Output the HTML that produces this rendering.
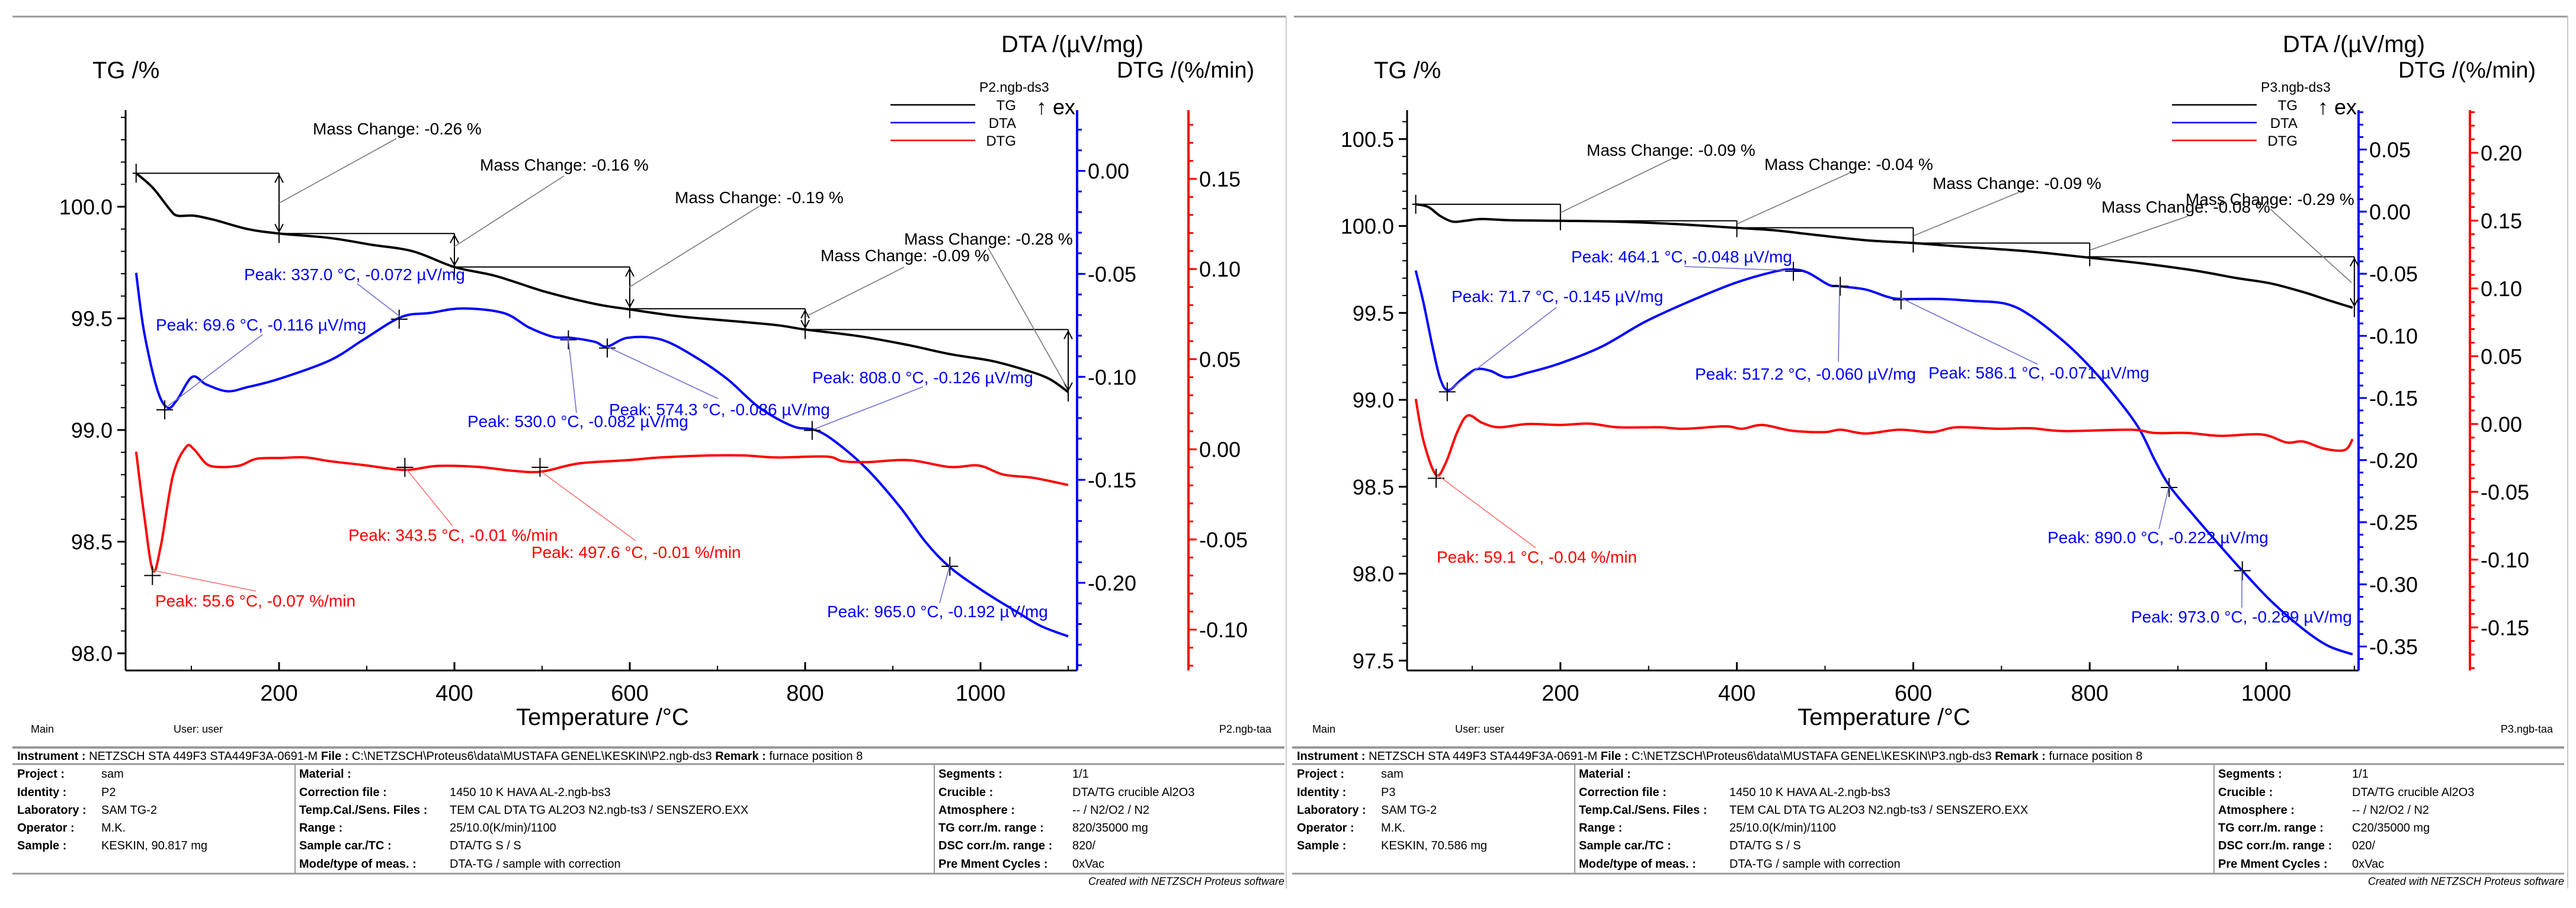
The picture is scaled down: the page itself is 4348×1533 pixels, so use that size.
<!DOCTYPE html>
<html><head><meta charset="utf-8"><title>TG/DTA/DTG P2 and P3</title>
<style>
html,body{margin:0;padding:0;background:#fff;}
svg{display:block;font-family:"Liberation Sans",Arial,sans-serif;}
</style></head>
<body>
<svg id="chart" width="4348" height="1533" viewBox="0 0 4348 1533" xmlns="http://www.w3.org/2000/svg"></svg>
<script>
// ---------- LEFT PANEL (P2) DATA ----------
const L_T_TG=[37,56,75,84,103,127,164,200,258,305,353,400,447,503,560,600,654,711,767,800,862,918,965,1012,1050,1078,1100];
const L_TG=[100.15,100.085,99.99,99.96,99.96,99.94,99.90,99.88,99.86,99.83,99.80,99.73,99.69,99.62,99.565,99.54,99.51,99.49,99.47,99.45,99.42,99.38,99.34,99.31,99.27,99.23,99.17];
const L_T_DTA=[37,46,61,73,84,101,117,141,164,200,258,296,339,372,409,456,485,513,532,560,574,598,635,673,711,748,786,810,833,871,909,937,965,1003,1041,1069,1100];
const L_DTA=[-0.0495,-0.078,-0.106,-0.115,-0.111,-0.100,-0.1037,-0.107,-0.105,-0.101,-0.092,-0.082,-0.071,-0.069,-0.0668,-0.069,-0.076,-0.0806,-0.081,-0.083,-0.0853,-0.081,-0.0818,-0.0899,-0.101,-0.115,-0.124,-0.1256,-0.131,-0.145,-0.1636,-0.180,-0.1924,-0.204,-0.214,-0.221,-0.226];
const L_T_DTG=[37,46,56,65,79,94,103,117,131,155,174,202,230,258,296,343,381,428,466,499,541,598,635,692,730,767,824,843,871,918,965,998,1026,1060,1100];
const L_DTG=[-0.0013,-0.036,-0.067,-0.054,-0.0145,0.0013,0,-0.008,-0.0098,-0.009,-0.0053,-0.0048,-0.0045,-0.0066,-0.0087,-0.0114,-0.0092,-0.0098,-0.0119,-0.0124,-0.0079,-0.006,-0.0045,-0.0034,-0.0034,-0.0045,-0.004,-0.0066,-0.0071,-0.006,-0.0098,-0.009,-0.014,-0.0158,-0.0198];
const L_STEP_T=[37,200,400,600,800,1100];
const L_STEP_TG=[100.15,99.88,99.73,99.543,99.45,99.17];
const L_DTA_PEAK_T=[69.6,337.0,530.0,574.3,808.0,965.0];
const L_DTA_PEAK_V=[-0.116,-0.072,-0.082,-0.086,-0.126,-0.192];
const L_DTG_PEAK_T=[55.6,343.5,497.6];
const L_DTG_PEAK_V=[-0.07,-0.01,-0.01];
const L_TG_TICKS=[98.0,98.5,99.0,99.5,100.0];
const L_DTA_TICKS=[-0.20,-0.15,-0.10,-0.05,0.00];
const L_DTG_TICKS=[-0.10,-0.05,0.00,0.05,0.10,0.15];

// ---------- RIGHT PANEL (P3) DATA ----------
const R_T_TG=[36,50,64,78,92,111,144,200,265,331,400,443,490,546,600,658,733,801,864,920,967,1005,1042,1070,1098];
const R_TG=[100.125,100.11,100.057,100.025,100.03,100.04,100.033,100.03,100.025,100.011,99.989,99.975,99.948,99.918,99.902,99.88,99.853,99.817,99.782,99.743,99.70,99.67,99.62,99.574,99.53];
const R_T_DTA=[36,45,55,64,73,88,104,120,139,163,200,247,294,340,397,443,464,481,504,516,546,570,586,630,668,705,733,771,799,827,855,874,891,920,948,972,1005,1042,1070,1098];
const R_DTA=[-0.0474,-0.074,-0.1086,-0.135,-0.1437,-0.135,-0.127,-0.128,-0.1334,-0.1296,-0.122,-0.1086,-0.0894,-0.0742,-0.0577,-0.0482,-0.0466,-0.0493,-0.0589,-0.060,-0.0627,-0.0684,-0.0703,-0.0703,-0.0719,-0.0742,-0.0837,-0.1047,-0.1239,-0.1468,-0.1735,-0.2003,-0.2213,-0.2462,-0.2691,-0.2882,-0.313,-0.336,-0.3494,-0.3563];
const R_T_DTG=[36,45,59,70,83,95,111,130,163,200,233,265,312,340,387,406,429,462,499,518,546,584,621,649,696,733,771,846,874,911,948,995,1023,1042,1066,1089,1098];
const R_DTG=[0.0185,-0.0129,-0.0374,-0.0287,-0.006,0.0063,0.001,-0.0024,0,-0.0007,0.0003,-0.0024,-0.0024,-0.0035,-0.0017,-0.0035,-0.0007,-0.0049,-0.006,-0.0042,-0.007,-0.0042,-0.006,-0.0024,-0.0035,-0.0031,-0.0052,-0.0042,-0.0066,-0.0066,-0.0087,-0.0077,-0.0136,-0.0129,-0.0182,-0.0192,-0.0112];
const R_STEP_T=[36,200,400,600,800,1100];
const R_STEP_TG=[100.125,100.03,99.99,99.902,99.823,99.53];
const R_DTA_PEAK_T=[71.7,464.1,517.2,586.1,890.0,973.0];
const R_DTA_PEAK_V=[-0.145,-0.048,-0.060,-0.071,-0.222,-0.289];
const R_DTG_PEAK_T=[59.1];
const R_DTG_PEAK_V=[-0.04];
const R_TG_TICKS=[97.5,98.0,98.5,99.0,99.5,100.0,100.5];
const R_DTA_TICKS=[-0.35,-0.30,-0.25,-0.20,-0.15,-0.10,-0.05,0.00,0.05];
const R_DTG_TICKS=[-0.15,-0.10,-0.05,0.00,0.05,0.10,0.15,0.20];

const X_TICKS=[200,400,600,800,1000];

const NS="http://www.w3.org/2000/svg";
const svg=document.getElementById('chart');
function add(tag,parent){const e=document.createElementNS(NS,tag);(parent||svg).appendChild(e);return e;}
function line(p,x1,y1,x2,y2,stroke,w,name){
  const e=add('line',p);
  e.setAttribute('x1',x1);e.setAttribute('y1',y1);e.setAttribute('x2',x2);e.setAttribute('y2',y2);
  e.setAttribute('stroke',stroke);e.setAttribute('stroke-width',w);
  
  
  return e;}
function txt(p,x,y,s,size,fill,anchor,weight,name,style){
  const e=add('text',p);
  e.setAttribute('x',x);e.setAttribute('y',y);e.setAttribute('font-size',size);
  e.setAttribute('fill',fill||'#000');e.setAttribute('text-anchor',anchor||'start');
  if(weight)e.setAttribute('font-weight',weight);
  if(style)e.setAttribute('font-style',style);
  e.textContent=s;
  
  
  return e;}
function smoothPath(pts){
  let d='M'+pts[0][0].toFixed(1)+','+pts[0][1].toFixed(1);
  for(let i=0;i<pts.length-1;i++){
    const p0=pts[Math.max(0,i-1)],p1=pts[i],p2=pts[i+1],p3=pts[Math.min(pts.length-1,i+2)];
    const c1x=p1[0]+(p2[0]-p0[0])/6,c1y=p1[1]+(p2[1]-p0[1])/6;
    const c2x=p2[0]-(p3[0]-p1[0])/6,c2y=p2[1]-(p3[1]-p1[1])/6;
    d+=' C'+c1x.toFixed(1)+','+c1y.toFixed(1)+' '+c2x.toFixed(1)+','+c2y.toFixed(1)+' '+p2[0].toFixed(1)+','+p2[1].toFixed(1);
  }
  return d;}
function cross(p,x,y,color,name){
  line(p,x-14,y,x+14,y,color,2,name+'-h');
  line(p,x,y-16,x,y+16,color,2,name+'-v');}
function fmt(v,d){return (Math.abs(v)<1e-9?0:v).toFixed(d);}

function drawPanel(P){
  const g=add('g');
  
  
  const O=P.ox;
  const X=t=>P.x0+P.xs*t;
  const YTG=v=>P.tgRef+(P.tgRefV-v)*P.tgS;
  const YDTA=v=>P.dtaRef+(P.dtaRefV-v)*P.dtaS;
  const YDTG=v=>P.dtgRef+(P.dtgRefV-v)*P.dtgS;
  const top=186,bot=1132,ax=212+O,bx=1818+O,rx=2006+O;
  // frame
  line(g,21+O,28,2171+O,28,'#9a9a9a',3,'panel-top-border');
  line(g,2171+O,28,2171+O,1500,'#c8c8c8',2,'panel-right-border');
  // titles
  txt(g,156+O,132,'TG /%',40,'#000','start',null,'tg-axis-title');
  txt(g,1690+O,88,'DTA /(µV/mg)',40,'#000','start',null,'dta-axis-title');
  txt(g,1885+O,131,'DTG /(%/min)',38,'#000','start',null,'dtg-axis-title');
  // axes
  line(g,ax,top,ax,bot,'#000',3,'tg-axis-line');
  line(g,ax,bot,bx,bot,'#000',3,'x-axis-line');
  line(g,bx,top,bx,bot,'#0000ff',4,'dta-axis-line');
  line(g,rx,top,rx,bot,'#ff0000',4,'dtg-axis-line');
  // TG ticks
  for(let v=Math.ceil(P.tgMin*10)/10;v<=P.tgMax+1e-9;v+=0.1){
    const y=YTG(v);line(g,ax-8,y,ax,y,'#000',2,'tg-minor-tick');}
  P.tgTicks.forEach(v=>{const y=YTG(v);line(g,ax-14,y,ax,y,'#000',3,'tg-major-tick');
    txt(g,ax-22,y+13,fmt(v,1),36,'#000','end',null,'tg-tick-label');});
  // DTA ticks
  for(let k=Math.ceil(P.dtaMin*100);k<=Math.floor(P.dtaMax*100);k++){
    const y=YDTA(k/100);line(g,bx,y,bx+8,y,'#0000ff',3,'dta-minor-tick');}
  P.dtaTicks.forEach(v=>{const y=YDTA(v);line(g,bx,y,bx+14,y,'#0000ff',3,'dta-major-tick');
    txt(g,bx+18,y+13,fmt(v,2),36,'#000','start',null,'dta-tick-label');});
  // DTG ticks
  for(let k=Math.ceil(P.dtgMin*100);k<=Math.floor(P.dtgMax*100);k++){
    const y=YDTG(k/100);line(g,rx,y,rx+8,y,'#ff0000',3,'dtg-minor-tick');}
  P.dtgTicks.forEach(v=>{const y=YDTG(v);line(g,rx,y,rx+14,y,'#ff0000',3,'dtg-major-tick');
    txt(g,rx+18,y+13,fmt(v,2),36,'#000','start',null,'dtg-tick-label');});
  // X ticks
  for(let t=100;t<=1100;t+=100){const x=X(t);if(x>ax&&x<bx)line(g,x,bot,x,bot-8,'#000',2,'x-minor-tick');}
  X_TICKS.forEach(t=>{const x=X(t);line(g,x,bot,x,bot-14,'#000',3,'x-major-tick');
    txt(g,x,1183,String(t),38,'#000','middle',null,'x-tick-label');});
  txt(g,P.xTitleX,1224,'Temperature /°C',40,'#000','middle',null,'x-axis-title');
  // legend
  txt(g,1653+O,155,P.file,23,'#000','start',null,'legend-title');
  [['TG','#000',177],['DTA','#0000ff',207],['DTG','#ff0000',237]].forEach(l=>{
    line(g,1503+O,l[2],1646+O,l[2],l[1],2.5,'legend-'+l[0].toLowerCase()+'-line');
    txt(g,1715+O,l[2]+9,l[0],24,'#000','end',null,'legend-'+l[0].toLowerCase()+'-label');});
  txt(g,1749+O,193,'↑ ex',36,'#000','start',null,'exo-direction-label');
  // mass change steps
  const st=P.stepT,sv=P.stepTG;
  for(let i=0;i<st.length-1;i++){
    const xa=X(st[i]),xb=X(st[i+1]),y1=YTG(sv[i]),y2=YTG(sv[i+1]);
    line(g,xa-6,y1,xb,y1,'#000',2,'mass-step-level');
    if(i===0)line(g,xa,y1-16,xa,y1+16,'#000',2,'mass-step-start');
    line(g,xb,y1,xb,y2+16,'#000',2,'mass-step-arrow');
    if(y2-y1>30){
      line(g,xb-7,y1+16,xb,y1+3,'#000',2,'arrow-head-up-l');line(g,xb+7,y1+16,xb,y1+3,'#000',2,'arrow-head-up-r');
      line(g,xb-7,y2-16,xb,y2-3,'#000',2,'arrow-head-dn-l');line(g,xb+7,y2-16,xb,y2-3,'#000',2,'arrow-head-dn-r');}
  }
  // curves
  const curves=[[P.tT,P.tg,YTG,'#000','tg-curve'],[P.aT,P.dta,YDTA,'#0000ff','dta-curve'],[P.gT,P.dtg,YDTG,'#ff0000','dtg-curve']];
  curves.forEach(c=>{
    const pts=c[0].map((t,i)=>[X(t),c[2](c[1][i])]);
    const p=add('path',g);
    p.setAttribute('d',smoothPath(pts));p.setAttribute('fill','none');
    p.setAttribute('stroke',c[3]);p.setAttribute('stroke-width',4);p.setAttribute('stroke-linejoin','round');
    
    
  });
  // peak crosses
  P.aPT.forEach((t,i)=>cross(g,X(t),YDTA(P.aPV[i]),'#000','dta-peak-marker'));
  P.gPT.forEach((t,i)=>cross(g,X(t),YDTG(P.gPV[i]),'#000','dtg-peak-marker'));
  // annotations
  P.ann.forEach(a=>{
    const col=a[0]==='k'?'#000':(a[0]==='b'?'#0000ff':'#ff0000');
    const lc=a[0]==='k'?'#777':(a[0]==='b'?'#7070d0':'#ff7070');
    line(g,a[4]+O,a[5],a[6]+O,a[7],lc,1.6,'annotation-leader');
    txt(g,a[2]+O,a[3],a[1],28,col,'start',null,'annotation-label');
  });
  // bottom status
  txt(g,52+O,1237,'Main',18,'#000','start',null,'status-main');
  txt(g,293+O,1237,'User: user',18,'#000','start',null,'status-user');
  txt(g,2146+O,1237,P.taa,18,'#000','end',null,'status-file');
  // footer table
  const F=O>0?2160:0;
  line(g,21+F,1262,2168+F,1262,'#999',4,'footer-line-top');
  line(g,21+F,1290,2168+F,1290,'#999',3,'footer-line-mid');
  line(g,21+F,1475,2168+F,1475,'#999',3,'footer-line-bottom');
  line(g,498+F,1290,498+F,1475,'#999',2,'footer-divider-1');
  line(g,1577+F,1290,1577+F,1475,'#999',2,'footer-divider-2');
  const inst=add('text',g);
  inst.setAttribute('x',29+F);inst.setAttribute('y',1283);inst.setAttribute('font-size',20);
  
  
  [['Instrument : ','bold'],['NETZSCH STA 449F3 STA449F3A-0691-M  ',null],['File : ','bold'],['C:\\NETZSCH\\Proteus6\\data\\MUSTAFA GENEL\\KESKIN\\'+P.file+'  ',null],['Remark : ','bold'],['furnace position 8',null]].forEach(s=>{
    const ts=add('tspan',inst);ts.textContent=s[0];if(s[1])ts.setAttribute('font-weight','bold');
    
    });
  const rows=[1313,1344,1374,1404,1434,1465];
  const c1=[['Project :','sam'],['Identity :',P.ident],['Laboratory :','SAM TG-2'],['Operator :','M.K.'],['Sample :',P.sample]];
  const c2=[['Material :',''],['Correction file :','1450 10 K HAVA AL-2.ngb-bs3'],['Temp.Cal./Sens. Files :','TEM CAL DTA TG AL2O3 N2.ngb-ts3 / SENSZERO.EXX'],['Range :','  25/10.0(K/min)/1100'],['Sample car./TC :','DTA/TG S / S'],['Mode/type of meas. :','DTA-TG / sample with correction']];
  const c3=[['Segments :','1/1'],['Crucible :','DTA/TG crucible Al2O3'],['Atmosphere :','-- / N2/O2 / N2'],['TG corr./m. range :',P.tgcorr],['DSC corr./m. range :',P.dsccorr],['Pre Mment Cycles :','0xVac']];
  c1.forEach((r,i)=>{txt(g,29+F,rows[i],r[0],20,'#000','start','bold','footer-label');txt(g,171+F,rows[i],r[1],20,'#000','start',null,'footer-value');});
  c2.forEach((r,i)=>{txt(g,505+F,rows[i],r[0],20,'#000','start','bold','footer-label');const v=txt(g,759+F,rows[i],r[1],20,'#000','start',null,'footer-value');v.setAttribute('xml:space','preserve');});
  c3.forEach((r,i)=>{txt(g,1584+F,rows[i],r[0],20,'#000','start','bold','footer-label');txt(g,1810+F,rows[i],r[1],20,'#000','start',null,'footer-value');});
  txt(g,2168+F,1494,'Created with NETZSCH Proteus software',18,'#000','end',null,'created-with-note','italic');
}

drawPanel({id:'p2',ox:0,x0:175,xs:1.48,xTitleX:1017,
  tgRef:349,tgRefV:100,tgS:377,tgMin:97.93,tgMax:100.42,
  dtaRef:288.5,dtaRefV:0,dtaS:3477.5,dtaMin:-0.242,dtaMax:0.029,
  dtgRef:302,dtgRefV:0.15,dtgS:3044,dtgMin:-0.123,dtgMax:0.187,
  tgTicks:L_TG_TICKS,dtaTicks:L_DTA_TICKS,dtgTicks:L_DTG_TICKS,
  tT:L_T_TG,tg:L_TG,aT:L_T_DTA,dta:L_DTA,gT:L_T_DTG,dtg:L_DTG,
  stepT:L_STEP_T,stepTG:L_STEP_TG,aPT:L_DTA_PEAK_T,aPV:L_DTA_PEAK_V,gPT:L_DTG_PEAK_T,gPV:L_DTG_PEAK_V,
  file:'P2.ngb-ds3',taa:'P2.ngb-taa',ident:'P2',sample:'KESKIN, 90.817 mg',tgcorr:'820/35000 mg',dsccorr:'820/',
  ann:[
   ['k','Mass Change: -0.26 %',528,227,669,234,471,343],
   ['k','Mass Change: -0.16 %',810,288,952,297,766,417],
   ['k','Mass Change: -0.19 %',1139,343,1282,348,1062,485],
   ['k','Mass Change: -0.28 %',1526,413,1668,419,1798,649],
   ['k','Mass Change: -0.09 %',1385,441,1526,451,1359,535],
   ['b','Peak: 337.0 °C, -0.072 µV/mg',412,473,603,479,676,535],
   ['b','Peak: 69.6 °C, -0.116 µV/mg',263,558,443,565,279,689],
   ['b','Peak: 530.0 °C, -0.082 µV/mg',789,721,973,697,959,570],
   ['b','Peak: 574.3 °C, -0.086 µV/mg',1028,701,1212,673,1024,585],
   ['b','Peak: 808.0 °C, -0.126 µV/mg',1371,647,1558,653,1373,725],
   ['b','Peak: 965.0 °C, -0.192 µV/mg',1396,1042,1586,1018,1603,955],
   ['r','Peak: 343.5 °C, -0.01 %/min',588,913,764,888,686,792],
   ['r','Peak: 497.6 °C, -0.01 %/min',897,942,1073,913,913,796],
   ['r','Peak: 55.6 °C, -0.07 %/min',262,1024,432,998,258,963]
  ]});

drawPanel({id:'p3',ox:2163,x0:2336,xs:1.489,xTitleX:3180,
  tgRef:234.8,tgRefV:100.5,tgS:293.5,tgMin:97.45,tgMax:100.66,
  dtaRef:252.4,dtaRefV:0.05,dtaS:2097.75,dtaMin:-0.369,dtaMax:0.081,
  dtgRef:258,dtgRefV:0.2,dtgS:2289.4,dtgMin:-0.181,dtgMax:0.231,
  tgTicks:R_TG_TICKS,dtaTicks:R_DTA_TICKS,dtgTicks:R_DTG_TICKS,
  tT:R_T_TG,tg:R_TG,aT:R_T_DTA,dta:R_DTA,gT:R_T_DTG,dtg:R_DTG,
  stepT:R_STEP_T,stepTG:R_STEP_TG,aPT:R_DTA_PEAK_T,aPV:R_DTA_PEAK_V,gPT:R_DTG_PEAK_T,gPV:R_DTG_PEAK_V,
  file:'P3.ngb-ds3',taa:'P3.ngb-taa',ident:'P3',sample:'KESKIN, 70.586 mg',tgcorr:'C20/35000 mg',dsccorr:'020/',
  ann:[
   ['k','Mass Change: -0.09 %',515,263,659,268,471,359],
   ['k','Mass Change: -0.04 %',815,287,959,292,769,378],
   ['k','Mass Change: -0.09 %',1099,319,1244,325,1067,398],
   ['k','Mass Change: -0.08 %',1384,359,1530,365,1365,422],
   ['k','Mass Change: -0.29 %',1526,346,1669,353,1806,477],
   ['b','Peak: 464.1 °C, -0.048 µV/mg',489,443,680,450,864,457],
   ['b','Peak: 71.7 °C, -0.145 µV/mg',287,510,464,519,283,659],
   ['b','Peak: 517.2 °C, -0.060 µV/mg',698,641,940,611,942,481],
   ['b','Peak: 586.1 °C, -0.071 µV/mg',1092,639,1276,615,1045,503],
   ['b','Peak: 890.0 °C, -0.222 µV/mg',1293,917,1481,893,1498,821],
   ['b','Peak: 973.0 °C, -0.289 µV/mg',1434,1051,1621,1026,1621,962],
   ['r','Peak: 59.1 °C, -0.04 %/min',262,950,429,925,262,801]
  ]});
</script>
</body></html>
